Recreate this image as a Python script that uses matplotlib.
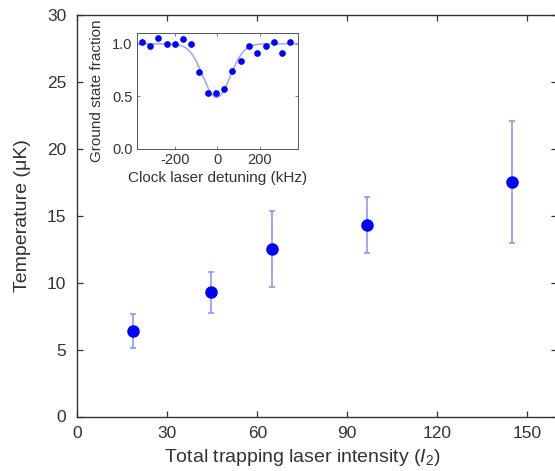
import numpy as np
import matplotlib
matplotlib.use('Agg')
import matplotlib.pyplot as plt

plt.rcParams['font.family'] = ['Liberation Sans', 'DejaVu Sans']
plt.rcParams['mathtext.fontset'] = 'custom'
plt.rcParams['mathtext.rm'] = 'Liberation Sans'
plt.rcParams['mathtext.it'] = 'Liberation Sans:italic'
plt.rcParams['axes.unicode_minus'] = False

# --- main data: temperature vs trapping intensity ---
intensity = [18.7, 44.4, 64.9, 96.5, 145.0]
temperature = [6.41, 9.30, 12.52, 14.33, 17.50]
temp_err = [1.27, 1.53, 2.87, 2.10, 4.56]

# --- inset data: clock laser spectrum ---
detuning = [-357, -318, -278, -239, -200, -162, -123, -85, -46, -7,
            32, 70, 109, 148, 187, 227, 265, 304, 343]
ground_frac = [1.022, 0.975, 1.057, 0.997, 0.994, 1.044, 1.000, 0.731, 0.528, 0.535,
               0.566, 0.744, 0.839, 0.981, 0.915, 0.981, 1.013, 0.908, 1.016]
# gaussian fit parameters (center, depth, width)
fit_center, fit_depth, fit_sigma = -4.0, 0.51, 64.0

text_col = '#333333'
spine_col = '#333333'
light_blue = '#8c8cff'

fig = plt.figure(figsize=(5.55, 4.71), dpi=100)
ax = fig.add_axes([77.3 / 555, 54.5 / 471, 480 / 555, 401.5 / 471])

ax.errorbar(intensity, temperature, yerr=temp_err, fmt='none',
            ecolor=light_blue, elinewidth=1.1, capsize=2.4, capthick=1.1)
ax.plot(intensity, temperature, 'o', color='#0000ff', markersize=8, zorder=3)

ax.set_xlim(0, 160)
ax.set_ylim(0, 30)
ax.set_xticks([0, 30, 60, 90, 120, 150])
ax.set_yticks([0, 5, 10, 15, 20, 25, 30])
ax.tick_params(direction='in', top=True, right=True, length=4, width=0.9,
               color=spine_col, labelcolor=text_col, labelsize=12.5)
ax.tick_params(axis='y', pad=8)
ax.tick_params(axis='x', pad=7)
for s in ax.spines.values():
    s.set_color(spine_col)
    s.set_linewidth(1.0)
ax.set_xlabel(r'Total trapping laser intensity ($I_2$)', fontsize=14, color=text_col)
ax.xaxis.set_label_coords(0.468, -0.075)
ax.set_ylabel('Temperature (\u03bcK)', fontsize=14, color=text_col, labelpad=11)

# inset
ins = fig.add_axes([136.7 / 555, 322 / 471, 161.6 / 555, 115.7 / 471])
xf = np.linspace(-380, 380, 400)
yf = 1 - fit_depth * np.exp(-(xf - fit_center) ** 2 / (2 * fit_sigma ** 2))
ins.plot(xf, yf, color='#9a9aff', lw=1.0)
ins.plot(detuning, ground_frac, 'o', color='#0000ff', markersize=3.8, zorder=3)
ins.set_xlim(-380, 380)
ins.set_ylim(0, 1.1)
ins.set_xticks([-200, 0, 200])
ins.set_yticks([0, 0.5, 1.0])
ins.set_yticklabels(['0.0', '0.5', '1.0'])
ins.tick_params(direction='in', top=True, right=True, length=2.5, width=0.6,
                color='#666666', labelcolor=text_col, labelsize=10.5, pad=3)
for s in ins.spines.values():
    s.set_color('#555555')
    s.set_linewidth(0.7)
ins.set_xlabel('Clock laser detuning (kHz)', fontsize=11, color=text_col, labelpad=3)
ins.set_ylabel('Ground state fraction', fontsize=11, color=text_col, labelpad=6)

fig.savefig('out.png', dpi=100)
